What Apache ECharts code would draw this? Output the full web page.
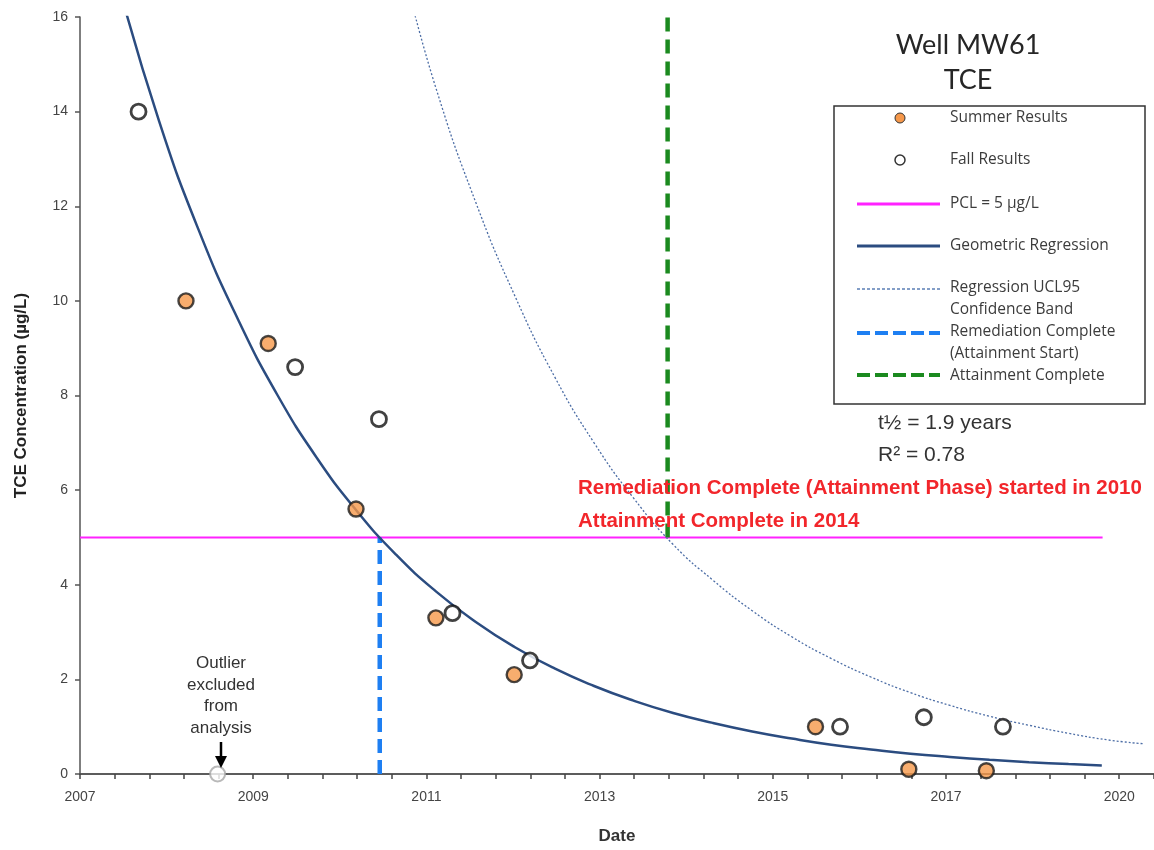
<!DOCTYPE html>
<html>
<head>
<meta charset="utf-8">
<script src="https://cdn.jsdelivr.net/npm/echarts@6/dist/echarts.min.js"></script>
<style>
html,body{margin:0;padding:0;background:#fff;}
#chart{width:1154px;height:850px;}
</style>
</head>
<body>
<div id="chart"></div>
<script>
// ---- data (years as decimal, concentration in µg/L) ----
var summerX = [2008.34, 2009.38, 2010.49, 2011.50, 2012.49, 2016.30, 2017.48, 2018.46];
var summerY = [10.0, 9.1, 5.6, 3.3, 2.1, 1.0, 0.1, 0.07];
var fallX = [2007.74, 2009.72, 2010.78, 2011.71, 2012.69, 2016.61, 2017.67, 2018.67];
var fallY = [14.0, 8.6, 7.5, 3.4, 2.4, 1.0, 1.2, 1.0];
var outlierX = [2008.74];
var outlierY = [0];
var regX = [2007.5, 2008.0, 2008.5, 2009.0, 2009.5, 2010.0, 2010.5, 2011.0, 2011.5, 2012.0, 2012.5, 2013.0, 2013.5, 2014.0, 2014.5, 2015.0, 2015.5, 2016.0, 2016.5, 2017.0, 2017.5, 2018.0, 2018.5, 2019.0, 2019.5, 2019.92];
var regY = [16.6, 13.8, 11.5, 9.6, 8.0, 6.67, 5.56, 4.63, 3.86, 3.22, 2.68, 2.23, 1.86, 1.55, 1.29, 1.08, 0.90, 0.75, 0.62, 0.52, 0.43, 0.36, 0.30, 0.25, 0.21, 0.18];
var uclX = [2011.15, 2011.5, 2012.0, 2012.5, 2013.0, 2013.5, 2014.0, 2014.5, 2015.0, 2015.5, 2016.0, 2016.5, 2017.0, 2017.5, 2018.0, 2018.5, 2019.0, 2019.5, 2020.0, 2020.44];
var uclY = [16.6, 14.5, 12.1, 10.1, 8.4, 7.0, 5.83, 4.85, 4.1, 3.45, 2.90, 2.44, 2.05, 1.72, 1.45, 1.22, 1.03, 0.86, 0.72, 0.64];
var pclValue = 5;
var pclRange = [2007.0, 2019.93];
var remediationYear = 2010.79;
var attainmentYear = 2014.43;
var yMaxValue = 16;
var xTickLabels = [2007, 2009.19, 2011.38, 2013.57, 2015.76, 2017.95, 2020.14];
var xMinorStep = 0.438;

function pairs(xs, ys){ return xs.map(function(x,i){ return [x, ys[i]]; }); }
var minorTicks = [];
for (var k = 0; k <= 31; k++) minorTicks.push(+(2007 + k * xMinorStep).toFixed(3));

var narrowBold = "'Liberation Sans Narrow','Arial Narrow','Liberation Sans',Arial,sans-serif";
var legendFont = "'Open Sans',sans-serif";

var chart = echarts.init(document.getElementById('chart'), null, {renderer:'canvas'});
var legendTextColor = '#3c3c3c';
function legText(t, y){
  return {type:'text', z:101, style:{x:950, y:y, text:t, fill:legendTextColor, font:"15.5px " + legendFont, textVerticalAlign:'middle'}};
}
var option = {
  animation:false,
  backgroundColor:'#fff',
  grid:{left:80, right:0, top:17, bottom:64, containLabel:false},
  xAxis:[{
    type:'value', min:2007, max:2020.58,
    name:'Date', nameLocation:'middle', nameGap:54,
    nameTextStyle:{fontFamily:narrowBold, fontWeight:'bold', fontSize:17, color:'#333'},
    axisLine:{show:true, onZero:false, lineStyle:{color:'#444', width:1.5}},
    axisTick:{show:true, customValues:minorTicks, length:5, lineStyle:{color:'#444', width:1.5}},
    axisLabel:{show:true, customValues:xTickLabels, margin:16, color:'#444', fontSize:14, fontFamily:'Liberation Sans, Arial',
      formatter:function(v){ return String(Math.floor(v + 0.001)); }},
    splitLine:{show:false}
  },{
    type:'value', min:2007, max:2020.58, position:'top',
    axisLine:{show:true, lineStyle:{color:'#555', width:1.5}},
    axisTick:{show:false}, axisLabel:{show:false}, splitLine:{show:false}
  }],
  yAxis:{
    type:'value', min:0, max:yMaxValue, interval:2,
    name:'TCE Concentration (µg/L)', nameLocation:'middle', nameGap:50, nameRotate:90,
    nameTextStyle:{fontFamily:narrowBold, fontWeight:'bold', fontSize:17, color:'#222'},
    axisLine:{show:true, lineStyle:{color:'#555', width:1.5}},
    axisTick:{show:true, length:5, lineStyle:{color:'#555', width:1.5}},
    axisLabel:{color:'#444', fontSize:14, margin:12, fontFamily:'Liberation Sans, Arial'},
    splitLine:{show:false}
  },
  series:[
    {name:'PCL', type:'line', data:[[pclRange[0], pclValue],[pclRange[1], pclValue]], showSymbol:false, symbol:'none',
      lineStyle:{color:'#ff22ff', width:2}, z:2},
    {name:'Remediation Complete', type:'line', data:[[remediationYear,0],[remediationYear,pclValue]], symbol:'none',
      lineStyle:{color:'#1e7ff2', width:4.5, type:[14,7]}, z:3},
    {name:'Attainment Complete', type:'line', data:[[attainmentYear,pclValue],[attainmentYear,yMaxValue]], symbol:'none',
      lineStyle:{color:'#1b8a1f', width:4.5, type:[14,8]}, z:3},
    {name:'UCL95', type:'line', data:pairs(uclX, uclY), smooth:true, symbol:'none',
      lineStyle:{color:'#4d6ea6', width:1.3, type:[2,2]}, z:3},
    {name:'Geometric Regression', type:'line', data:pairs(regX, regY), smooth:true, symbol:'none',
      lineStyle:{color:'#2b4c80', width:2.5}, z:4},
    {name:'Outlier', type:'scatter', data:pairs(outlierX, outlierY), symbolSize:15,
      itemStyle:{color:'#fff', borderColor:'#a8a8a8', borderWidth:2}, z:5},
    {name:'Summer Results', type:'scatter', data:pairs(summerX, summerY), symbolSize:15,
      itemStyle:{color:'#f6984a', borderColor:'#1a1a1a', borderWidth:2.4}, z:6},
    {name:'Fall Results', type:'scatter', data:pairs(fallX, fallY), symbolSize:15,
      itemStyle:{color:'#fff', borderColor:'#111', borderWidth:2.8}, z:6}
  ],
  graphic:[
    {type:'text', z:100, style:{x:968, y:45, text:'Well MW61', fill:'#262626', font:"27px Lato, 'Open Sans', sans-serif", textAlign:'center', textVerticalAlign:'middle'}},
    {type:'text', z:100, style:{x:968, y:80, text:'TCE', fill:'#262626', font:"27px Lato, 'Open Sans', sans-serif", textAlign:'center', textVerticalAlign:'middle'}},
    {type:'rect', z:100, shape:{x:834, y:106, width:311, height:298}, style:{fill:'#fff', stroke:'#333', lineWidth:1.5}},
    {type:'circle', z:101, shape:{cx:900, cy:118, r:5}, style:{fill:'#f6984a', stroke:'#333', lineWidth:1}},
    {type:'circle', z:101, shape:{cx:900, cy:160, r:5}, style:{fill:'#fff', stroke:'#333', lineWidth:1.5}},
    {type:'line', z:101, shape:{x1:857, y1:204, x2:940, y2:204}, style:{stroke:'#ff22ff', lineWidth:3}},
    {type:'line', z:101, shape:{x1:857, y1:246, x2:940, y2:246}, style:{stroke:'#2b4c80', lineWidth:3}},
    {type:'line', z:101, shape:{x1:857, y1:289, x2:940, y2:289}, style:{stroke:'#5b7fb5', lineWidth:1.5, lineDash:[3,2]}},
    {type:'line', z:101, shape:{x1:857, y1:333, x2:940, y2:333}, style:{stroke:'#1e7ff2', lineWidth:4, lineDash:[13,5]}},
    {type:'line', z:101, shape:{x1:857, y1:375, x2:940, y2:375}, style:{stroke:'#1b8a1f', lineWidth:4, lineDash:[13,5]}},
    legText('Summer Results', 118),
    legText('Fall Results', 160),
    legText('PCL = 5 µg/L', 204),
    legText('Geometric Regression', 246),
    legText('Regression UCL95', 288),
    legText('Confidence Band', 310),
    legText('Remediation Complete', 332),
    legText('(Attainment Start)', 354),
    legText('Attainment Complete', 376),
    {type:'text', z:100, style:{x:878, y:423, text:'t½ = 1.9 years', fill:'#333', font:"21px 'Liberation Sans', Arial, sans-serif", textVerticalAlign:'middle'}},
    {type:'text', z:100, style:{x:878, y:455, text:'R² = 0.78', fill:'#333', font:"21px 'Liberation Sans', Arial, sans-serif", textVerticalAlign:'middle'}},
    {type:'text', z:100, style:{x:578, y:488, text:'Remediation Complete (Attainment Phase) started in 2010', fill:'#f2262b', font:"bold 20.5px " + narrowBold, textVerticalAlign:'middle'}},
    {type:'text', z:100, style:{x:578, y:521, text:'Attainment Complete in 2014', fill:'#f2262b', font:"bold 20.5px " + narrowBold, textVerticalAlign:'middle'}},
    {type:'text', z:100, style:{text:'Outlier\nexcluded\nfrom\nanalysis', x:221, y:696, fill:'#333', font:"17px 'Liberation Sans', Arial, sans-serif", lineHeight:21.5, textAlign:'center', textVerticalAlign:'middle'}},
    {type:'line', z:100, shape:{x1:221, y1:742, x2:221, y2:758}, style:{stroke:'#000', lineWidth:2.5}},
    {type:'polygon', z:100, shape:{points:[[215,756],[227,756],[221,768]]}, style:{fill:'#000'}}
  ]
};
chart.setOption(option);
</script>
</body>
</html>
